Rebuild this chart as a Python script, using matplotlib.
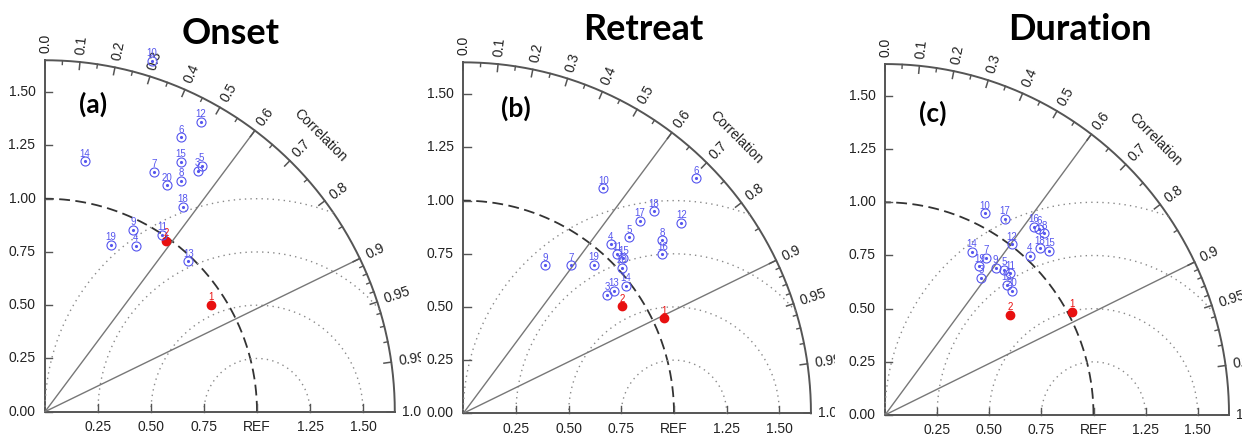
import numpy as np
import matplotlib.pyplot as plt

W, H = 1242, 438

titles = ["Onset", "Retreat", "Duration"]
tags = ["(a)", "(b)", "(c)"]

# normalized standard deviation and correlation of each model (1, 2 red; rest blue)
onset_ids = [1, 2, 3, 4, 5, 6, 7, 8, 9, 10, 11, 12, 13, 14, 15, 18, 19, 20]
onset_std = [0.930, 0.985, 1.341, 0.888, 1.371, 1.439, 1.237, 1.259, 0.950, 1.724,
             0.998, 1.546, 0.977, 1.191, 1.338, 1.161, 0.843, 1.210]
onset_cor = [0.841, 0.580, 0.537, 0.483, 0.539, 0.446, 0.416, 0.510, 0.436, 0.293,
             0.553, 0.476, 0.692, 0.157, 0.480, 0.561, 0.368, 0.477]

retreat_ids = list(range(1, 21))
retreat_std = [1.053, 0.905, 0.881, 1.059, 1.142, 1.562, 0.865, 1.246, 0.797, 1.250,
               1.044, 1.369, 0.918, 0.976, 1.052, 1.205, 1.233, 1.311, 0.934, 1.017]
retreat_cor = [0.906, 0.831, 0.775, 0.661, 0.690, 0.707, 0.593, 0.758, 0.487, 0.532,
               0.698, 0.756, 0.779, 0.790, 0.722, 0.784, 0.680, 0.690, 0.663, 0.739]

duration_ids = list(range(1, 21))
duration_std = [1.018, 0.762, 0.793, 1.022, 0.890, 1.146, 0.884, 1.145, 0.872, 1.063,
                0.896, 1.007, 0.845, 0.873, 1.102, 1.138, 1.087, 1.080, 0.833, 0.842]
duration_cor = [0.879, 0.787, 0.580, 0.680, 0.643, 0.646, 0.548, 0.666, 0.609, 0.452,
                0.669, 0.604, 0.690, 0.476, 0.715, 0.628, 0.530, 0.688, 0.543, 0.722]

corr_major = [0.0, 0.1, 0.2, 0.3, 0.4, 0.5, 0.6, 0.7, 0.8, 0.9, 0.95, 0.99, 1.0]
corr_labels = ["0.0", "0.1", "0.2", "0.3", "0.4", "0.5", "0.6", "0.7", "0.8", "0.9",
               "0.95", "0.99", "1.0"]
corr_minor = [0.05, 0.15, 0.25, 0.35, 0.45, 0.55, 0.65, 0.75, 0.85,
              0.91, 0.92, 0.93, 0.94, 0.96, 0.97, 0.98]
std_ticks = [0.0, 0.25, 0.5, 0.75, 1.0, 1.25, 1.5]
x_labels = ["0.25", "0.50", "0.75", "REF", "1.25", "1.50"]
y_labels = ["0.00", "0.25", "0.50", "0.75", "1.00", "1.25", "1.50"]

# layout in pixels: strip [x0, x1], origin, x/y scale, title & tag centres
panels = [
    dict(x0=0, x1=421, ox=45, oy=411.7, sx=212, sy=213, tt=(231, 34), tg=(93, 104)),
    dict(x0=421, x1=835, ox=463.3, oy=413.3, sx=210.7, sy=212.7, tt=(643, 30), tg=(516, 108)),
    dict(x0=835, x1=1242, ox=885, oy=415, sx=208.5, sy=212.7, tt=(1080, 29), tg=(933, 113)),
]
data = [(onset_ids, onset_std, onset_cor),
        (retreat_ids, retreat_std, retreat_cor),
        (duration_ids, duration_std, duration_cor)]

BLUE = "#5555ee"
RED = "#e81010"
TXT = "#222222"
RMAX = 1.65

fig = plt.figure(figsize=(W / 100, H / 100), dpi=100)

for p, (ids, std, cor), title, tag in zip(panels, data, titles, tags):
    ax = fig.add_axes([p["x0"] / W, 0, (p["x1"] - p["x0"]) / W, 1])
    ax.set_xlim((p["x0"] - p["ox"]) / p["sx"], (p["x1"] - p["ox"]) / p["sx"])
    ax.set_ylim(-(H - p["oy"]) / p["sy"], p["oy"] / p["sy"])
    ax.set_xticks([])
    ax.set_yticks([])
    for s in ax.spines.values():
        s.set_visible(False)

    t = np.linspace(0, np.pi / 2, 300)
    # frame
    ax.plot(RMAX * np.cos(t), RMAX * np.sin(t), color="#555555", lw=1.4)
    ax.plot([0, RMAX], [0, 0], color="#555555", lw=1.4)
    ax.plot([0, 0], [0, RMAX], color="#555555", lw=1.4)
    # reference arc
    ax.plot(np.cos(t), np.sin(t), color="#333333", lw=1.3, ls=(0, (6, 3)))
    # centred RMS circles
    tt = np.linspace(0, np.pi, 500)
    for r in [0.25, 0.5, 0.75, 1.0]:
        x = 1 + r * np.cos(tt)
        y = r * np.sin(tt)
        x[np.hypot(x, y) > RMAX] = np.nan
        ax.plot(x, y, color="#8a8a8a", lw=1.0, ls=(0, (1, 3)))
    # radial lines
    for c in [0.6, 0.9]:
        a = np.arccos(c)
        ax.plot([0, RMAX * np.cos(a)], [0, RMAX * np.sin(a)], color="#777777", lw=1.0)

    # correlation ticks and labels
    for c, lab in zip(corr_major, corr_labels):
        a = np.arccos(c)
        ax.plot([(RMAX - 0.035) * np.cos(a), RMAX * np.cos(a)],
                [(RMAX - 0.035) * np.sin(a), RMAX * np.sin(a)], color="#555555", lw=1.1)
        ax.text(1.685 * np.cos(a), 1.685 * np.sin(a), lab, rotation=np.degrees(a),
                rotation_mode="anchor", ha="left", va="center", fontsize=10,
                family="Liberation Sans", color=TXT)
    for c in corr_minor:
        a = np.arccos(c)
        ax.plot([(RMAX - 0.018) * np.cos(a), RMAX * np.cos(a)],
                [(RMAX - 0.018) * np.sin(a), RMAX * np.sin(a)], color="#555555", lw=1.0)
    ax.text(1.297, 1.296, "Correlation", rotation=-45, ha="center", va="center",
            rotation_mode="anchor", fontsize=10, family="Liberation Sans", color=TXT)

    # std axes ticks and labels
    for v in std_ticks[1:]:
        ax.plot([v, v], [0, 0.035], color="#555555", lw=1.0)
    for v in std_ticks:
        ax.plot([0, 0.035], [v, v], color="#555555", lw=1.0)
    for v, lab in zip(std_ticks[1:], x_labels):
        ax.text(v, -0.072, lab, ha="center", va="center", fontsize=10,
                family="Liberation Sans", color=TXT)
    for v, lab in zip(std_ticks, y_labels):
        ax.text(-0.045, v, lab, ha="right", va="center", fontsize=10,
                family="Liberation Sans", color=TXT)

    # models
    for i, s, c in zip(ids, std, cor):
        x = s * c
        y = s * np.sqrt(1 - c ** 2)
        if i <= 2:
            ax.plot(x, y, "o", ms=6, color=RED, zorder=5)
            col = RED
        else:
            ax.plot(x, y, "o", ms=6.5, mfc="none", mec=BLUE, mew=0.8, zorder=5)
            ax.plot(x, y, ".", ms=2.5, color=BLUE, zorder=5)
            col = BLUE
        ax.annotate(str(i), (x, y), xytext=(0, 5.5), textcoords="offset points",
                    ha="center", va="center", fontsize=7, color=col,
                    family="Liberation Sans", zorder=6)

    fig.text(p["tt"][0] / W, 1 - p["tt"][1] / H, title, ha="center", va="center",
             fontsize=26, fontweight="bold", family="Lato")
    fig.text(p["tg"][0] / W, 1 - p["tg"][1] / H, tag, ha="center", va="center",
             fontsize=19, fontweight="bold", family="Lato")

fig.savefig("out.png", dpi=100)
